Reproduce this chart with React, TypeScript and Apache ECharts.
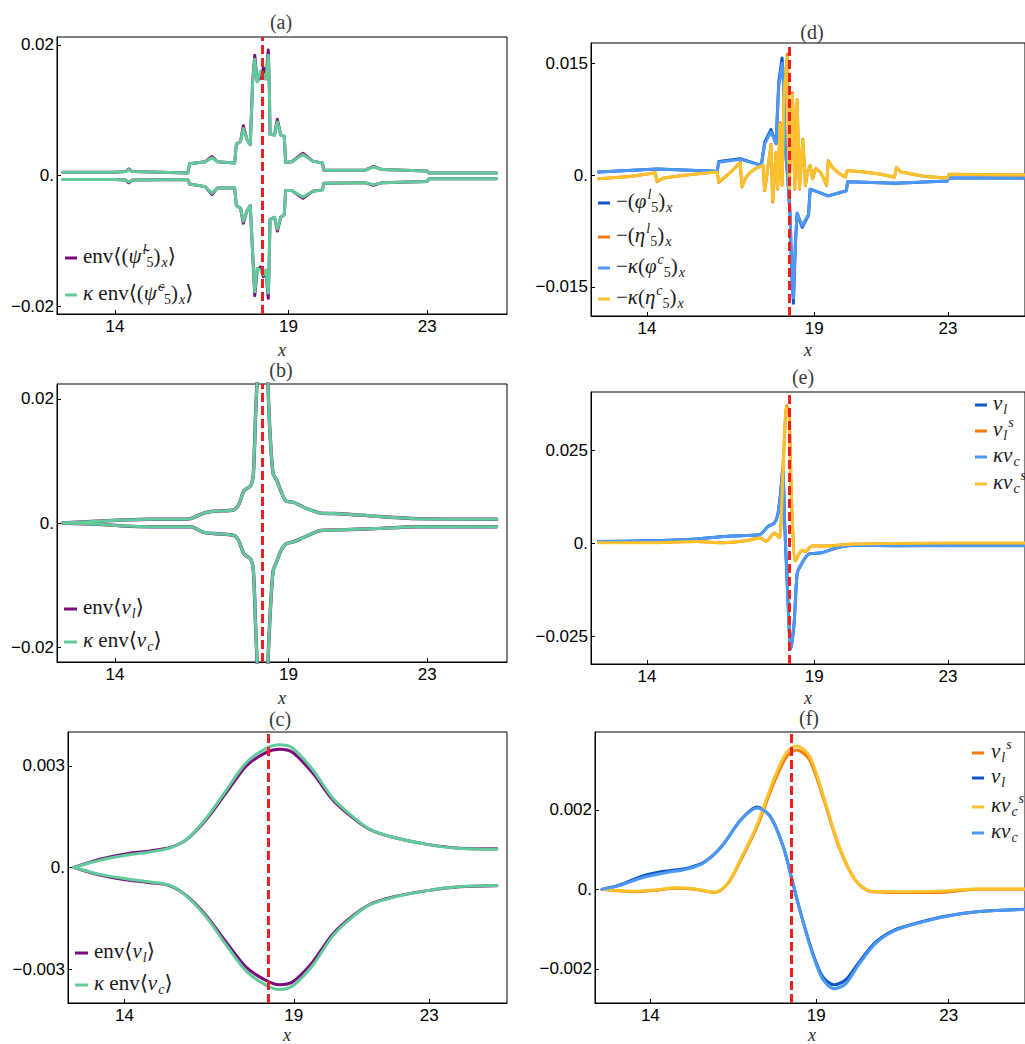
import React, { useEffect, useRef } from "react";
import * as echarts from "echarts";

// ---------- shared axis data ----------
const xRange = [12.33, 25.3];
const xTicks = [14, 19, 23];
const markerX = [18.25];

// ---------- panel (a) ----------
const aYRange = [-0.0212, 0.0212];
const aYTicks = [-0.02, 0, 0.02];
const aYLabels = ["\u22120.02", "0.", "0.02"];
const aX = [12.5, 14.0, 14.3, 14.4, 14.5, 16.1, 16.15, 16.6, 16.8, 16.95, 17.45, 17.5, 17.62, 17.7, 17.8, 17.9, 17.97, 18.03, 18.1, 18.2, 18.28, 18.35, 18.42, 18.45, 18.47, 18.6, 18.68, 18.78, 18.88, 18.92, 19.1, 19.42, 19.7, 19.98, 20.02, 21.2, 21.45, 21.7, 23.0, 23.05, 25.0];
const aUpL = [0.0005, 0.0005, 0.0006, 0.001, 0.0006, 0.0004, 0.0018, 0.0021, 0.0029, 0.0021, 0.0019, 0.0048, 0.0052, 0.0076, 0.0056, 0.0047, 0.0145, 0.0184, 0.0145, 0.015, 0.0165, 0.0148, 0.0192, 0.0135, 0.0063, 0.0062, 0.0086, 0.0062, 0.006, 0.002, 0.0021, 0.0034, 0.0022, 0.0019, 0.0008, 0.0008, 0.0014, 0.0009, 0.0007, 0.0004, 0.0004];
const aLoL = [-0.0006, -0.0006, -0.0007, -0.0011, -0.0007, -0.0006, -0.0013, -0.0017, -0.0029, -0.0019, -0.0019, -0.0046, -0.005, -0.0073, -0.0055, -0.0046, -0.012, -0.0184, -0.0145, -0.014, -0.0155, -0.0145, -0.0188, -0.012, -0.0067, -0.0064, -0.0085, -0.0064, -0.006, -0.0023, -0.0023, -0.0035, -0.0024, -0.0022, -0.0012, -0.0011, -0.0015, -0.0011, -0.0009, -0.0005, -0.0005];
const aUpC = [0.0005, 0.0005, 0.0006, 0.0009, 0.0006, 0.0004, 0.0018, 0.0021, 0.0027, 0.0021, 0.0019, 0.0048, 0.0052, 0.0072, 0.0056, 0.0047, 0.0145, 0.0178, 0.0143, 0.016, 0.0155, 0.0148, 0.0184, 0.0135, 0.0063, 0.0062, 0.0082, 0.0062, 0.006, 0.002, 0.0021, 0.0032, 0.0022, 0.0019, 0.0008, 0.0008, 0.0013, 0.0009, 0.0007, 0.0004, 0.0004];
const aLoC = [-0.0006, -0.0006, -0.0007, -0.001, -0.0007, -0.0006, -0.0013, -0.0017, -0.0027, -0.0019, -0.0019, -0.0046, -0.005, -0.007, -0.0055, -0.0046, -0.012, -0.0178, -0.0142, -0.0145, -0.0152, -0.0145, -0.018, -0.012, -0.0067, -0.0064, -0.0082, -0.0064, -0.006, -0.0023, -0.0023, -0.0033, -0.0024, -0.0022, -0.0012, -0.0011, -0.0014, -0.0011, -0.0009, -0.0005, -0.0005];

// ---------- panel (b) ----------
const bYRange = [-0.0224, 0.0224];
const bYTicks = [-0.02, 0, 0.02];
const bYLabels = ["\u22120.02", "0.", "0.02"];
const bX = [12.5, 13.5, 14.3, 15.0, 15.89, 16.18, 16.56, 16.85, 17.43, 17.57, 17.72, 17.91, 17.99, 18.05, 18.1, 18.18, 18.25, 18.33, 18.41, 18.47, 18.56, 18.67, 18.78, 18.92, 19.16, 19.45, 19.93, 20.5, 21.5, 22.7, 25.0];
const bUp = [0, 0.0003, 0.0005, 0.0006, 0.0006, 0.0007, 0.0016, 0.0019, 0.0021, 0.003, 0.0052, 0.006, 0.0079, 0.017, 0.0235, 0.038, 0.045, 0.038, 0.0224, 0.0144, 0.0079, 0.0068, 0.0052, 0.0036, 0.0033, 0.0025, 0.0016, 0.0015, 0.0011, 0.0007, 0.0006];
const bLo = [0, -0.0002, -0.0005, -0.0006, -0.0006, -0.0006, -0.0015, -0.0017, -0.002, -0.0029, -0.005, -0.0058, -0.0077, -0.016, -0.023, -0.038, -0.045, -0.038, -0.0225, -0.015, -0.0077, -0.0061, -0.0045, -0.0034, -0.003, -0.0023, -0.0012, -0.0011, -0.0009, -0.0006, -0.0006];

// ---------- panel (c) ----------
const cYRange = [-0.004, 0.004];
const cYTicks = [-0.003, 0, 0.003];
const cYLabels = ["\u22120.003", "0.", "0.003"];
const cX = [12.5, 13.3, 14.08, 14.76, 15.35, 15.84, 16.42, 17.0, 17.6, 18.19, 18.58, 18.96, 19.55, 20.15, 20.74, 21.23, 21.9, 22.9, 23.9, 25.0];
const cUpL = [0, 0.00025, 0.00041, 0.00049, 0.00059, 0.00083, 0.00142, 0.0022, 0.003, 0.0034, 0.00349, 0.0034, 0.0028, 0.002, 0.00147, 0.00113, 0.0009, 0.00069, 0.00057, 0.00055];
const cUpC = [0, 0.00022, 0.00037, 0.00046, 0.00058, 0.00084, 0.00146, 0.00227, 0.0031, 0.00352, 0.00362, 0.00353, 0.0029, 0.00205, 0.0015, 0.00114, 0.0009, 0.00069, 0.00056, 0.00054];
const cLoL = [0, -0.00023, -0.00037, -0.00045, -0.00054, -0.00084, -0.00143, -0.0022, -0.00295, -0.00334, -0.00346, -0.00338, -0.0028, -0.00197, -0.00143, -0.0011, -0.00088, -0.00069, -0.00057, -0.00054];
const cLoC = [0, -0.00021, -0.00034, -0.00043, -0.00053, -0.00085, -0.00147, -0.00228, -0.00306, -0.00348, -0.0036, -0.0035, -0.0029, -0.00202, -0.00146, -0.00111, -0.00089, -0.00069, -0.00056, -0.00053];

// ---------- panel (d) ----------
const dYRange = [-0.0189, 0.0177];
const dYTicks = [-0.015, 0, 0.015];
const dYLabels = ["\u22120.015", "0.", "0.015"];
const dBlueX = [12.55, 14.3, 16.1, 16.15, 16.79, 17.42, 17.52, 17.71, 17.86, 17.94, 18.04, 18.08, 18.13, 18.2, 18.28, 18.33, 18.38, 18.44, 18.49, 18.64, 18.83, 18.88, 19.42, 19.96, 20.0, 21.46, 22.98, 23.02, 25.3];
const dBlueL = [0.0004, 0.0008, 0.0005, 0.0018, 0.0022, 0.0013, 0.0044, 0.0061, 0.0042, 0.0124, 0.0157, 0.0128, 0.004, 0.0002, -0.0054, -0.0134, -0.0172, -0.009, -0.0052, -0.007, -0.0054, -0.0019, -0.0028, -0.0021, -0.0009, -0.0011, -0.0008, -0.0004, -0.0004];
const dBlueC = [0.0004, 0.0008, 0.0005, 0.0017, 0.0021, 0.0013, 0.0042, 0.0058, 0.0042, 0.0118, 0.015, 0.0125, 0.004, 0.0002, -0.0052, -0.013, -0.0165, -0.0088, -0.0051, -0.0068, -0.0053, -0.0019, -0.0028, -0.0021, -0.0009, -0.0011, -0.0008, -0.0004, -0.0004];
const dOrX = [12.55, 13.5, 14.25, 14.3, 14.5, 15.0, 15.6, 16.1, 16.15, 16.35, 16.6, 16.79, 16.84, 16.95, 17.1, 17.3, 17.47, 17.52, 17.71, 17.76, 17.86, 17.91, 17.98, 18.04, 18.1, 18.2, 18.25, 18.35, 18.42, 18.49, 18.56, 18.66, 18.74, 18.8, 18.88, 18.95, 19.05, 19.2, 19.37, 19.42, 19.55, 19.75, 19.93, 19.99, 20.5, 21.0, 21.4, 21.46, 21.6, 22.3, 22.98, 23.03, 25.3];
const dOrL = [-0.0005, -0.0002, 0.0003, -0.0009, -0.0004, -0.0001, 0.0002, 0.0004, -0.001, -0.0002, 0.0008, 0.0017, -0.0016, -0.0004, 0.0004, 0.001, 0.0013, -0.0021, 0.0041, -0.0036, 0.003, -0.0019, 0.007, -0.0014, 0.0113, 0.0162, -0.0019, 0.011, -0.0019, 0.0101, -0.0019, 0.0048, -0.0014, 0.0005, 0.0013, -0.0005, 0.0009, 0.0003, -0.0014, 0.0019, 0.001, 0.0002, -0.0003, 0.0006, 0.0004, 0.0001, -0.0003, 0.001, 0.0004, -0.0002, -0.0004, 0.0001, 0.0];
const dOrC = [-0.0005, -0.0002, 0.0003, -0.0008, -0.0004, -0.0001, 0.0002, 0.0004, -0.0009, -0.0002, 0.0008, 0.0016, -0.0015, -0.0004, 0.0004, 0.001, 0.0013, -0.002, 0.004, -0.0034, 0.0029, -0.0018, 0.0068, -0.0013, 0.0112, 0.0158, -0.0017, 0.0108, -0.0018, 0.01, -0.0018, 0.0047, -0.0013, 0.0005, 0.0013, -0.0005, 0.0009, 0.0003, -0.0013, 0.0018, 0.001, 0.0002, -0.0003, 0.0006, 0.0004, 0.0001, -0.0003, 0.001, 0.0004, -0.0002, -0.0004, 0.0001, 0.0];

// ---------- panel (e) ----------
const eYRange = [-0.0325, 0.0406];
const eYTicks = [-0.025, 0, 0.025];
const eYLabels = ["\u22120.025", "0.", "0.025"];
const eBlueX = [12.55, 14.0, 15.5, 16.5, 17.37, 17.62, 17.81, 17.91, 18.0, 18.06, 18.12, 18.2, 18.3, 18.4, 18.49, 18.59, 18.83, 19.22, 19.71, 20.2, 21.5, 23.0, 25.3];
const eBlueL = [0.0004, 0.0006, 0.0011, 0.0019, 0.0023, 0.0045, 0.0054, 0.0076, 0.0138, 0.02, 0.005, -0.012, -0.0285, -0.0216, -0.0083, -0.0061, -0.003, -0.0026, -0.0012, -0.0006, -0.0007, -0.0006, -0.0006];
const eBlueC = [0.0004, 0.0006, 0.0011, 0.0019, 0.0023, 0.0044, 0.0053, 0.0074, 0.0135, 0.0196, 0.005, -0.012, -0.0283, -0.0214, -0.0082, -0.006, -0.003, -0.0026, -0.0012, -0.0006, -0.0007, -0.0007, -0.0007];
const eOrX = [12.55, 14.0, 15.5, 16.3, 17.0, 17.37, 17.57, 17.81, 17.96, 18.08, 18.18, 18.25, 18.33, 18.44, 18.54, 18.64, 18.74, 18.93, 19.42, 19.9, 21.0, 23.0, 25.3];
const eOrL = [0.0002, 0.0002, 0.0004, 0.0001, 0.0007, 0.0014, 0.0005, 0.0027, 0.0014, 0.0227, 0.0369, 0.035, 0.0094, -0.0048, -0.003, -0.0019, -0.0023, -0.0008, -0.0008, -0.0004, -0.0002, -0.0001, -0.0001];
const eOrC = [0.0001, 0.0001, 0.0004, 0.0001, 0.0007, 0.0013, 0.0005, 0.0026, 0.0014, 0.0222, 0.0365, 0.0348, 0.0094, -0.0047, -0.003, -0.0019, -0.0022, -0.0008, -0.0008, -0.0004, -0.0001, 0.0, 0.0];

// ---------- panel (f) ----------
const fYRange = [-0.00286, 0.00396];
const fYTicks = [-0.002, 0, 0.002];
const fYLabels = ["\u22120.002", "0.", "0.002"];
const fBlueX = [12.54, 13.08, 13.77, 14.46, 15.15, 15.65, 16.14, 16.73, 17.22, 17.62, 18.01, 18.26, 18.51, 18.9, 19.2, 19.54, 19.89, 20.28, 20.78, 21.37, 22.16, 22.94, 23.93, 25.3];
const fBlueL = [0, 0.00011, 0.00034, 0.00046, 0.00054, 0.0007, 0.00107, 0.00175, 0.00207, 0.00183, 0.00107, 0.00028, -0.00052, -0.00161, -0.0022, -0.0024, -0.00228, -0.00185, -0.00134, -0.00102, -0.00082, -0.00067, -0.00056, -0.0005];
const fBlueC = [0, 0.0001, 0.0003, 0.00042, 0.00052, 0.00069, 0.00107, 0.00175, 0.00205, 0.00183, 0.00107, 0.00028, -0.00053, -0.00165, -0.00226, -0.0025, -0.00238, -0.0019, -0.00137, -0.00104, -0.00083, -0.00068, -0.00056, -0.00051];
const fOrX = [12.54, 13.48, 14.2, 14.76, 15.35, 15.94, 16.34, 16.73, 17.22, 17.72, 18.11, 18.41, 18.8, 19.2, 19.69, 20.18, 20.68, 21.66, 22.65, 23.83, 25.3];
const fOrL = [0, -0.00006, -0.00002, 0.00003, 0, -0.00008, 0.00015, 0.00074, 0.00158, 0.00267, 0.00334, 0.00351, 0.00326, 0.00234, 0.00107, 0.00023, -0.00006, -0.00008, -0.00008, 0, 0];
const fOrC = [0, -0.00005, -0.00001, 0.00004, 0.00001, -0.00007, 0.00016, 0.00077, 0.00163, 0.00276, 0.00345, 0.00361, 0.00335, 0.0024, 0.0011, 0.00024, -0.00005, -0.00006, -0.00005, 0.00001, 0.00001];

// ---------- legend / title texts ----------
const panelTitles = ["(a)", "(b)", "(c)", "(d)", "(e)", "(f)"];
const legendA = ["{r|env\u27E8(}{i|\u03C8\u0303}{sp|l}{sbr|5}{r|)}{sb|x}{r|\u27E9}", "{i|\u03BA}{r| env\u27E8(}{i|\u03C8\u0303}{sp|c}{sbr|5}{r|)}{sb|x}{r|\u27E9}"];
const legendB = ["{r|env\u27E8}{i|v}{sb|l}{r|\u27E9}", "{i|\u03BA}{r| env\u27E8}{i|v}{sb|c}{r|\u27E9}"];
const legendD = [
  "{r|\u2212(}{i|\u03C6}{sp|l}{sbr|5}{r|)}{sb|x}",
  "{r|\u2212(}{i|\u03B7}{sp|l}{sbr|5}{r|)}{sb|x}",
  "{r|\u2212}{i|\u03BA}{r|(}{i|\u03C6}{sp|c}{sbr|5}{r|)}{sb|x}",
  "{r|\u2212}{i|\u03BA}{r|(}{i|\u03B7}{sp|c}{sbr|5}{r|)}{sb|x}",
];
const legendE = ["{i|v}{sb|l}", "{i|v}{sb|l}{sp|s}", "{i|\u03BAv}{sb|c}", "{i|\u03BAv}{sb|c}{sp|s}"];
const legendF = ["{i|v}{sb|l}{sp|s}", "{i|v}{sb|l}", "{i|\u03BAv}{sb|c}{sp|s}", "{i|\u03BAv}{sb|c}"];

// ---------- styles ----------
const PURPLE = "#7b0b7d";
const GREEN = "#62cb9b";
const DBLUE = "#0f56c6";
const ORANGE = "#f47b0c";
const LBLUE = "#4c98f2";
const YELLOW = "#fcc22e";
const RED = "#ee2020";
const SERIF = "Liberation Serif, DejaVu Serif, serif";
const SANS = "Liberation Sans, Arial, sans-serif";

const rich: any = {
  r: { fontFamily: SERIF, fontSize: 21, fill: "#1a1a1a", lineHeight: 30 },
  i: { fontFamily: SERIF, fontSize: 21, fontStyle: "italic", fill: "#1a1a1a", lineHeight: 30 },
  sp: { fontFamily: SERIF, fontSize: 14, fontStyle: "italic", fill: "#1a1a1a", lineHeight: 14, verticalAlign: "top", padding: [1, 0, 0, 1] },
  sb: { fontFamily: SERIF, fontSize: 14, fontStyle: "italic", fill: "#1a1a1a", lineHeight: 14, verticalAlign: "bottom", padding: [0, 0, 2, 1] },
  sbr: { fontFamily: SERIF, fontSize: 14, fill: "#1a1a1a", lineHeight: 14, verticalAlign: "bottom", padding: [0, 0, 2, 0] },
};

function zip(xs: number[], ys: number[]) {
  return xs.map((x, i) => [x, ys[i]]);
}

export default function App() {
  const ref = useRef<HTMLDivElement>(null);

  useEffect(() => {
    if (!ref.current) return;
    const chart = echarts.init(ref.current, undefined, { renderer: "svg" });

    const grids = [
      { left: 57, top: 37, width: 450, height: 277 },
      { left: 57, top: 384, width: 450, height: 278 },
      { left: 68, top: 732, width: 439, height: 271 },
      { left: 591, top: 43, width: 444, height: 273 },
      { left: 591, top: 392, width: 444, height: 272 },
      { left: 595, top: 732, width: 438, height: 271 },
    ];
    const yConf = [
      [aYRange, aYTicks, aYLabels],
      [bYRange, bYTicks, bYLabels],
      [cYRange, cYTicks, cYLabels],
      [dYRange, dYTicks, dYLabels],
      [eYRange, eYTicks, eYLabels],
      [fYRange, fYTicks, fYLabels],
    ] as any[];

    const line = (g: number, xs: number[], ys: number[], color: string, width: number, smooth: number | boolean) => ({
      type: "line",
      xAxisIndex: g,
      yAxisIndex: g,
      data: zip(xs, ys),
      symbol: "none",
      showSymbol: false,
      smooth,
      silent: true,
      z: 2,
      lineStyle: { color, width, join: "round", cap: "round" },
    });

    const series: any[] = [
      line(0, aX, aUpL, PURPLE, 3, false),
      line(0, aX, aLoL, PURPLE, 3, false),
      line(0, aX, aUpC, GREEN, 3, false),
      line(0, aX, aLoC, GREEN, 3, false),
      line(1, bX, bUp, PURPLE, 3.4, 0.25),
      line(1, bX, bLo, PURPLE, 3.4, 0.25),
      line(1, bX, bUp, GREEN, 3, 0.25),
      line(1, bX, bLo, GREEN, 3, 0.25),
      line(2, cX, cUpL, PURPLE, 3, 0.3),
      line(2, cX, cLoL, PURPLE, 3, 0.3),
      line(2, cX, cUpC, GREEN, 3, 0.3),
      line(2, cX, cLoC, GREEN, 3, 0.3),
      line(3, dBlueX, dBlueL, DBLUE, 3, false),
      line(3, dOrX, dOrL, ORANGE, 3, false),
      line(3, dBlueX, dBlueC, LBLUE, 3, false),
      line(3, dOrX, dOrC, YELLOW, 3, false),
      line(4, eBlueX, eBlueL, DBLUE, 3, 0.25),
      line(4, eOrX, eOrL, ORANGE, 3, 0.25),
      line(4, eBlueX, eBlueC, LBLUE, 3, 0.25),
      line(4, eOrX, eOrC, YELLOW, 3, 0.25),
      line(5, fBlueX, fBlueL, DBLUE, 3, 0.3),
      line(5, fOrX, fOrL, ORANGE, 3, 0.3),
      line(5, fOrX, fOrC, YELLOW, 3, 0.3),
      line(5, fBlueX, fBlueC, LBLUE, 3, 0.3),
    ];
    for (let g = 0; g < 6; g++) {
      series.push({
        type: "line",
        xAxisIndex: g,
        yAxisIndex: g,
        data: [],
        z: 5,
        silent: true,
        markLine: {
          silent: true,
          symbol: ["none", "none"],
          label: { show: false },
          lineStyle: { color: RED, width: 3, type: [9, 4] },
          data: markerX.map((v) => ({ xAxis: v })),
        },
      });
    }

    const xAxis = grids.map((_, g) => ({
      gridIndex: g,
      type: "value",
      min: xRange[0],
      max: xRange[1],
      axisLine: { show: true, onZero: false, lineStyle: { color: "#000", width: 1 } },
      axisTick: { show: true, inside: true, length: 4, customValues: xTicks, lineStyle: { color: "#000" } },
      axisLabel: { show: true, customValues: xTicks, formatter: (v: number) => String(v), color: "#000", fontSize: 17, fontFamily: SANS, margin: 4 },
      splitLine: { show: false },
    }));
    const yAxis = yConf.map(([range, ticks, labels], g) => ({
      gridIndex: g,
      type: "value",
      min: range[0],
      max: range[1],
      axisLine: { show: true, onZero: false, lineStyle: { color: "#000", width: 1 } },
      axisTick: { show: true, inside: true, length: 4, customValues: ticks, lineStyle: { color: "#000" } },
      axisLabel: {
        show: true,
        customValues: ticks,
        formatter: (v: number) => {
          const k = ticks.findIndex((t: number) => Math.abs(t - v) < 1e-9);
          return k >= 0 ? labels[k] : "";
        },
        color: "#000",
        fontSize: 17,
        fontFamily: SANS,
        margin: 3,
      },
      splitLine: { show: false },
    }));

    const graphic: any[] = [];
    const titlePos = [[281, 22], [281, 370], [280, 719], [812, 32], [803, 377], [809, 718]];
    panelTitles.forEach((t, k) => {
      graphic.push({
        type: "text",
        x: titlePos[k][0],
        y: titlePos[k][1],
        z: 20,
        style: { text: t, fontFamily: SERIF, fontSize: 20, fill: "#3a3a3a", align: "center", verticalAlign: "middle" },
      });
    });
    const xNamePos = [[282, 350], [282, 698], [287, 1035], [808, 350], [808, 698], [812, 1035]];
    xNamePos.forEach(([x, y]) => {
      graphic.push({
        type: "text",
        x,
        y,
        z: 20,
        style: { text: "x", fontFamily: SERIF, fontStyle: "italic", fontSize: 18, fill: "#2a2a2a", align: "center", verticalAlign: "middle", lineHeight: 14 },
      });
    });

    const addLegend = (texts: string[], colors: string[], x1: number, x2: number, tx: number, ys: number[]) => {
      texts.forEach((t, k) => {
        graphic.push({
          type: "line",
          z: 20,
          shape: { x1, y1: ys[k], x2, y2: ys[k] },
          style: { stroke: colors[k], lineWidth: 3 },
        });
        graphic.push({
          type: "text",
          x: tx,
          y: ys[k] - 2,
          z: 20,
          style: { text: t, rich, align: "left", verticalAlign: "middle" },
        });
      });
    };
    addLegend(legendA, [PURPLE, GREEN], 65, 77, 83, [258, 295]);
    addLegend(legendB, [PURPLE, GREEN], 64, 77, 83, [609, 642]);
    addLegend(legendB, [PURPLE, GREEN], 75, 88, 94, [953, 985]);
    addLegend(legendD, [DBLUE, ORANGE, LBLUE, YELLOW], 598, 610, 616, [203, 237, 268, 299]);
    addLegend(legendE, [DBLUE, ORANGE, LBLUE, YELLOW], 975, 987, 993, [405, 431, 457, 484]);
    addLegend(legendF, [ORANGE, DBLUE, YELLOW, LBLUE], 972, 984, 991, [753, 778, 807, 833]);

    chart.setOption({
      animation: false,
      backgroundColor: "#ffffff",
      grid: grids.map((g) => ({ ...g, show: true, borderColor: "#000", borderWidth: 1, backgroundColor: "transparent" })),
      xAxis,
      yAxis,
      series,
      graphic,
    });

    return () => chart.dispose();
  }, []);

  return (
    <div
      ref={ref}
      style={{ position: "absolute", left: 0, top: 0, width: 1025, height: 1044, background: "#fff" }}
    />
  );
}
